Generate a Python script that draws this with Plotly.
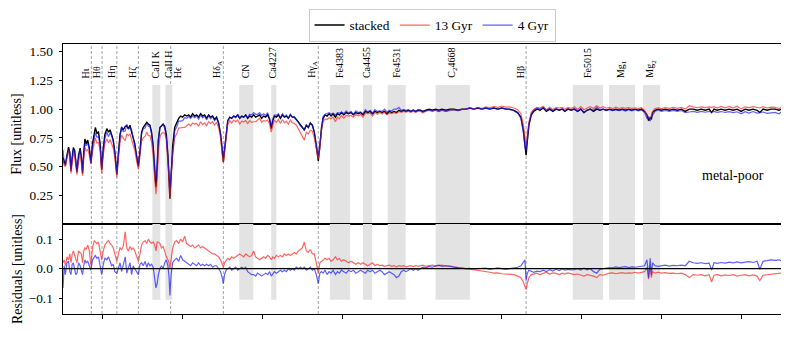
import plotly.graph_objects as go

# ---------------- data ----------------
wavelength = [
    3700, 3703, 3706, 3710, 3714, 3717, 3720, 3723, 3726, 3729,
    3732, 3735, 3739, 3743, 3746, 3749, 3752, 3755, 3758, 3762,
    3766, 3770, 3774, 3778, 3781, 3785, 3789, 3793, 3797, 3801,
    3805, 3810, 3814, 3818, 3822, 3826, 3830, 3835, 3839, 3843,
    3847, 3851, 3856, 3860, 3864, 3868, 3872, 3876, 3880, 3885,
    3889, 3893, 3897, 3901, 3906, 3910, 3914, 3918, 3922, 3926,
    3930, 3933, 3936, 3939, 3943, 3947, 3951, 3955, 3959, 3963,
    3966, 3968, 3971, 3975, 3980, 3985, 3990, 3995, 4000, 4005,
    4010, 4015, 4020, 4025, 4030, 4035, 4040, 4045, 4050, 4055,
    4060, 4065, 4070, 4075, 4080, 4085, 4090, 4095, 4099, 4102,
    4105, 4109, 4113, 4118, 4123, 4128, 4133, 4138, 4143, 4148,
    4153, 4158, 4163, 4168, 4173, 4178, 4183, 4188, 4193, 4198,
    4203, 4208, 4213, 4218, 4222, 4226, 4230, 4235, 4240, 4245,
    4250, 4255, 4260, 4265, 4270, 4275, 4280, 4285, 4290, 4295,
    4300, 4305, 4310, 4315, 4320, 4325, 4330, 4335, 4340, 4344,
    4348, 4352, 4357, 4362, 4367, 4372, 4377, 4383, 4388, 4393,
    4398, 4404, 4410, 4416, 4422, 4428, 4434, 4440, 4446, 4452,
    4458, 4464, 4470, 4476, 4482, 4488, 4494, 4500, 4506, 4512,
    4518, 4524, 4530, 4536, 4542, 4548, 4554, 4560, 4566, 4572,
    4578, 4584, 4590, 4596, 4602, 4610, 4618, 4626, 4634, 4642,
    4650, 4660, 4670, 4680, 4690, 4700, 4710, 4720, 4730, 4740,
    4750, 4760, 4770, 4780, 4790, 4800, 4810, 4820, 4830, 4840,
    4848, 4854, 4858, 4861, 4864, 4868, 4874, 4880, 4888, 4896,
    4904, 4912, 4920, 4928, 4936, 4944, 4952, 4958, 4966, 4974,
    4982, 4990, 4998, 5006, 5014, 5022, 5030, 5038, 5046, 5054,
    5062, 5070, 5078, 5086, 5094, 5102, 5110, 5118, 5126, 5134,
    5142, 5150, 5158, 5164, 5168, 5172, 5175, 5178, 5184, 5192,
    5200, 5210, 5220, 5230, 5240, 5250, 5260, 5270, 5280, 5290,
    5300, 5310, 5320, 5326, 5332, 5340, 5350, 5360, 5370, 5380,
    5390, 5400, 5410, 5420, 5430, 5440, 5447, 5455, 5465, 5475,
    5485, 5495, 5500,
]

flux_stacked = [
    0.58, 0.54, 0.51, 0.60, 0.67, 0.62, 0.46, 0.58, 0.665, 0.64,
    0.52, 0.45, 0.60, 0.66, 0.58, 0.44, 0.62, 0.74, 0.70, 0.73,
    0.66, 0.53, 0.70, 0.80, 0.84, 0.79, 0.80, 0.70, 0.47, 0.66,
    0.78, 0.83, 0.80, 0.82, 0.78, 0.73, 0.62, 0.43, 0.62, 0.78,
    0.84, 0.82, 0.85, 0.855, 0.83, 0.86, 0.80, 0.76, 0.70, 0.58,
    0.50, 0.64, 0.80, 0.84, 0.86, 0.885, 0.87, 0.86, 0.80, 0.68,
    0.45, 0.32, 0.48, 0.72, 0.84, 0.86, 0.87, 0.85, 0.78, 0.60,
    0.40, 0.22, 0.42, 0.68, 0.84, 0.88, 0.92, 0.94, 0.93, 0.95,
    0.94, 0.95, 0.93, 0.96, 0.94, 0.95, 0.93, 0.96, 0.94, 0.95,
    0.92, 0.95, 0.93, 0.94, 0.91, 0.93, 0.88, 0.78, 0.62, 0.54,
    0.64, 0.80, 0.90, 0.93, 0.92, 0.94, 0.93, 0.95, 0.92, 0.94,
    0.93, 0.95, 0.92, 0.94, 0.93, 0.95, 0.93, 0.94, 0.95, 0.92,
    0.94, 0.93, 0.95, 0.91, 0.83, 0.90, 0.94, 0.93, 0.95, 0.92,
    0.95, 0.93, 0.94, 0.92, 0.95, 0.93, 0.93, 0.91, 0.89, 0.86,
    0.84, 0.82, 0.86, 0.84, 0.88, 0.86, 0.80, 0.68, 0.55, 0.68,
    0.84, 0.92, 0.95, 0.94, 0.96, 0.94, 0.96, 0.93, 0.96, 0.95,
    0.97, 0.95, 0.97, 0.96, 0.97, 0.95, 0.97, 0.96, 0.97, 0.95,
    0.98, 0.97, 0.98, 0.96, 0.98, 0.97, 0.98, 0.97, 0.98, 0.96,
    0.98, 0.97, 0.98, 0.97, 0.99, 0.98, 0.99, 0.98, 0.99, 0.98,
    0.99, 0.98, 0.99, 0.99, 0.98, 0.99, 1.00, 0.99, 1.00, 0.99,
    1.00, 0.99, 1.00, 1.00, 0.99, 1.00, 1.00, 1.01, 1.00, 1.01,
    1.00, 1.01, 1.00, 1.01, 1.00, 1.01, 1.00, 1.00, 0.99, 0.97,
    0.93, 0.82, 0.70, 0.60, 0.72, 0.86, 0.95, 0.98, 1.00, 0.99,
    1.01, 0.98, 1.00, 0.98, 1.00, 0.99, 1.00, 0.98, 1.00, 0.99,
    1.00, 0.98, 1.00, 0.97, 0.99, 1.00, 0.98, 1.00, 0.99, 1.00,
    0.99, 1.00, 0.99, 1.00, 0.99, 1.00, 0.99, 1.00, 0.99, 1.00,
    0.99, 1.00, 0.98, 0.95, 0.90, 0.93, 0.91, 0.97, 0.99, 1.00,
    0.99, 1.00, 0.99, 1.00, 0.99, 1.00, 0.98, 1.00, 1.00, 0.99,
    1.00, 0.99, 1.00, 0.97, 1.00, 0.99, 1.00, 0.99, 1.00, 0.99,
    1.00, 0.98, 1.00, 0.99, 1.00, 0.99, 0.97, 1.00, 0.99, 1.00,
    1.00, 0.99, 1.00,
]

# residuals = stacked - model
resid_13gyr = [
    0.02, 0.03, 0.01, 0.04, 0.03, 0.05, 0.02, 0.05, 0.06, 0.045,
    0.03, 0.02, 0.06, 0.055, 0.05, 0.02, 0.06, 0.07, 0.065, 0.08,
    0.06, 0.01, 0.07, 0.095, 0.09, 0.085, 0.09, 0.06, 0.03, 0.06,
    0.08, 0.09, 0.095, 0.085, 0.08, 0.07, 0.05, 0.025, 0.05, 0.07,
    0.065, 0.075, 0.125, 0.07, 0.06, 0.075, 0.065, 0.07, 0.06, 0.04,
    0.025, 0.05, 0.08, 0.09, 0.095, 0.085, 0.10, 0.09, 0.085, 0.09,
    0.08, 0.06, 0.09, 0.09, 0.085, 0.07, 0.075, 0.06, 0.04, 0.03,
    0.02, 0.0, 0.03, 0.07, 0.09, 0.095, 0.085, 0.10, 0.09, 0.11,
    0.085, 0.08, 0.075, 0.08, 0.07, 0.075, 0.08, 0.07, 0.075, 0.07,
    0.065, 0.06, 0.055, 0.05, 0.05, 0.045, 0.04, 0.03, 0.015, 0.005,
    0.02, 0.03, 0.035, 0.03, 0.04, 0.035, 0.04, 0.045, 0.05, 0.045,
    0.04, 0.05, 0.045, 0.04, 0.045, 0.06, 0.04, 0.035, 0.03, 0.035,
    0.04, 0.035, 0.045, 0.04, 0.03, 0.04, 0.035, 0.045, 0.04, 0.045,
    0.04, 0.05, 0.045, 0.05, 0.045, 0.05, 0.055, 0.05, 0.06, 0.065,
    0.07, 0.09, 0.06, 0.055, 0.065, 0.05, 0.05, 0.02, -0.015, 0.02,
    0.025, 0.03, 0.035, 0.03, 0.035, 0.025, 0.03, 0.04, 0.03, 0.035,
    0.025, 0.03, 0.025, 0.02, 0.025, 0.02, 0.015, 0.02, 0.015, 0.02,
    0.015, 0.01, 0.015, 0.02, 0.01, 0.015, 0.01, 0.012, 0.008, 0.01,
    0.012, 0.008, 0.01, 0.006, 0.01, 0.008, 0.01, 0.006, 0.008, 0.01,
    0.007, 0.01, 0.008, 0.01, 0.012, 0.008, 0.01, 0.012, 0.008, 0.01,
    0.012, 0.009, 0.01, 0.006, 0.004, 0.002, 0.0, -0.002, -0.003, -0.004,
    -0.006, -0.01, -0.012, -0.015, -0.014, -0.017, -0.018, -0.02, -0.02, -0.025,
    -0.03, -0.045, -0.06, -0.07, -0.05, -0.03, -0.02, -0.018, -0.015, -0.02,
    -0.015, -0.012, -0.018, -0.014, -0.016, -0.02, -0.015, -0.018, -0.014, -0.016,
    -0.02, -0.018, -0.022, -0.025, -0.02, -0.022, -0.025, -0.03, -0.02, -0.022,
    -0.018, -0.015, -0.014, -0.017, -0.015, -0.013, -0.016, -0.014, -0.015, -0.012,
    -0.015, -0.012, -0.01, 0.005, -0.035, 0.01, -0.03, -0.01, -0.015, -0.012,
    -0.015, -0.013, -0.016, -0.015, -0.017, -0.015, -0.02, -0.03, -0.02, -0.022,
    -0.02, -0.024, -0.02, -0.045, -0.022, -0.02, -0.024, -0.021, -0.023, -0.02,
    -0.025, -0.022, -0.02, -0.024, -0.021, -0.025, -0.04, -0.022, -0.02, -0.018,
    -0.016, -0.015, -0.015,
]

resid_4gyr = [
    -0.065, 0.01, -0.02, 0.02, 0.025, -0.01, -0.02, 0.015, 0.02, -0.005,
    -0.02, -0.015, 0.02, 0.01, -0.01, -0.02, 0.01, 0.03, 0.02, 0.025,
    0.01, -0.005, 0.03, 0.04, 0.045, 0.035, 0.04, 0.01, -0.02, 0.015,
    0.035, 0.03, 0.04, 0.025, 0.01, 0.015, -0.01, -0.015, 0.0, 0.02,
    -0.01, 0.015, 0.04, -0.015, 0.005, 0.02, -0.02, 0.01, 0.0, -0.01,
    -0.02, 0.015, 0.02, 0.01, 0.025, 0.005, 0.02, 0.01, 0.015, 0.005,
    -0.04, -0.065, -0.05, -0.02, 0.0, 0.01, 0.0, 0.02, 0.03, 0.01,
    -0.03, -0.09, -0.02, 0.02, 0.03, 0.035, 0.025, 0.045, 0.03, 0.025,
    0.02, 0.015, 0.01, 0.02, 0.015, 0.01, 0.02, 0.01, 0.015, 0.01,
    0.015, 0.01, 0.015, 0.005, 0.01, 0.01, 0.0, -0.01, -0.03, -0.05,
    -0.02, -0.005, 0.0, 0.005, -0.005, 0.0, 0.005, -0.005, 0.0, 0.005,
    0.0, 0.005, -0.01, -0.015, -0.02, -0.02, -0.025, -0.015, -0.02, -0.025,
    -0.02, -0.015, -0.02, -0.01, -0.025, -0.015, -0.01, -0.015, -0.01, -0.005,
    -0.01, -0.005, -0.01, 0.0, -0.005, 0.0, -0.005, 0.005, 0.0, 0.005,
    0.0, 0.005, -0.005, 0.0, 0.005, -0.005, 0.0, -0.02, -0.05, -0.015,
    -0.01, -0.015, -0.005, -0.02, -0.01, -0.015, -0.005, -0.02, -0.01, -0.015,
    -0.005, -0.01, -0.015, -0.005, -0.01, -0.005, -0.015, -0.01, -0.005, -0.01,
    -0.015, -0.005, -0.01, -0.005, -0.015, -0.01, -0.005, -0.01, -0.02, -0.015,
    -0.01, -0.015, -0.02, -0.03, -0.025, -0.01, -0.005, -0.01, -0.005, 0.0,
    -0.005, 0.0, -0.005, 0.0, 0.005, 0.003, 0.008, 0.005, 0.01, 0.012,
    0.008, 0.01, 0.007, 0.005, 0.003, 0.002, 0.0, 0.001, -0.001, 0.0,
    0.0, 0.002, -0.002, 0.0, 0.003, 0.0, -0.002, 0.0, 0.002, 0.005,
    0.01, 0.02, 0.03, -0.04, -0.015, -0.005, -0.01, -0.012, -0.008, -0.01,
    -0.005, -0.01, -0.003, -0.008, -0.002, -0.006, 0.0, -0.005, -0.002, -0.004,
    -0.003, 0.0, -0.005, 0.002, -0.004, 0.0, -0.01, -0.015, -0.002, 0.0,
    0.002, 0.004, 0.003, 0.006, 0.004, 0.005, 0.007, 0.004, 0.006, 0.005,
    0.006, 0.008, 0.01, 0.03, -0.03, 0.035, -0.02, 0.02, 0.01, 0.008,
    0.01, 0.012, 0.009, 0.011, 0.01, 0.012, 0.01, 0.025, 0.02, 0.018,
    0.02, 0.017, 0.019, -0.005, 0.02, 0.018, 0.021, 0.019, 0.022, 0.02,
    0.023, 0.02, 0.022, 0.024, 0.021, 0.025, -0.002, 0.025, 0.027, 0.03,
    0.028, 0.03, 0.027,
]

assert len(wavelength) == len(flux_stacked) == len(resid_13gyr) == len(resid_4gyr), (
    len(wavelength), len(flux_stacked), len(resid_13gyr), len(resid_4gyr))

flux_13gyr = [s - r for s, r in zip(flux_stacked, resid_13gyr)]
flux_4gyr = [s - r for s, r in zip(flux_stacked, resid_4gyr)]

# Balmer lines (dashed markers) and index bandpasses (grey bands)
line_names = ["Hι", "Hθ", "Hη", "Hζ", "Hϵ", "Hδ<sub>A</sub>", "Hγ<sub>A</sub>", "Hβ"]
line_waves = [3771, 3798, 3835, 3889, 3970, 4102, 4340, 4861]
band_names = ["CaII K", "CaII H", "CN", "Ca4227", "Fe4383", "Ca4455", "Fe4531",
              "C<sub>2</sub>4668", "Fe5015", "Mg<sub>1</sub>", "Mg<sub>2</sub>"]
band_lo = [3924, 3957, 4142, 4222, 4369, 4452, 4514, 4634, 4978, 5069, 5154]
band_hi = [3944, 3974, 4177, 4235, 4420, 4475, 4559, 4720, 5054, 5134, 5197]

x_ticks = [3800, 4000, 4200, 4400, 4600, 4800, 5000, 5200, 5400]
flux_ticks = [0.25, 0.50, 0.75, 1.00, 1.25, 1.50]
resid_ticks = [-0.1, 0.0, 0.1]

# ---------------- figure ----------------
FONT = "Liberation Serif, Times New Roman, serif"
RED = "rgba(255,30,30,0.68)"
BLUE = "rgba(20,20,255,0.68)"

fig = go.Figure()
fig.add_trace(go.Scatter(x=wavelength, y=flux_stacked, mode="lines", name="stacked",
                         line=dict(color="black", width=1.4), xaxis="x", yaxis="y"))
fig.add_trace(go.Scatter(x=wavelength, y=flux_13gyr, mode="lines", name="13 Gyr",
                         line=dict(color=RED, width=1.2), xaxis="x", yaxis="y"))
fig.add_trace(go.Scatter(x=wavelength, y=flux_4gyr, mode="lines", name="4 Gyr",
                         line=dict(color=BLUE, width=1.2), xaxis="x", yaxis="y"))
fig.add_trace(go.Scatter(x=wavelength, y=resid_13gyr, mode="lines", showlegend=False,
                         line=dict(color=RED, width=1.2), xaxis="x2", yaxis="y2"))
fig.add_trace(go.Scatter(x=wavelength, y=resid_4gyr, mode="lines", showlegend=False,
                         line=dict(color=BLUE, width=1.2), xaxis="x2", yaxis="y2"))

shapes = []
for lo, hi in zip(band_lo, band_hi):
    shapes.append(dict(type="rect", xref="x", yref="y", x0=lo, x1=hi, y0=0, y1=1.21,
                       fillcolor="#e3e3e3", line=dict(width=0), layer="below"))
    shapes.append(dict(type="rect", xref="x2", yref="y2", x0=lo, x1=hi, y0=-0.105, y1=0.16,
                       fillcolor="#e3e3e3", line=dict(width=0), layer="below"))
for w in line_waves:
    shapes.append(dict(type="line", xref="x", yref="paper", x0=w, x1=w, y0=0, y1=1,
                       line=dict(color="#9a9a9a", width=0.9, dash="3px,2px"), layer="below"))
shapes.append(dict(type="line", xref="x2 domain", yref="y2", x0=0, x1=1, y0=0, y1=0,
                   line=dict(color="black", width=1.3)))

annotations = []
line_shift = [-6, -6, -6, -6, 7, -6, -6, -6]
for name, w, sh in zip(line_names, line_waves, line_shift):
    annotations.append(dict(text=name, x=w, y=1.253, xref="x", yref="y", showarrow=False,
                            textangle=-90, xanchor="center", yanchor="bottom", xshift=sh,
                            font=dict(family=FONT, size=10, color="black")))
for name, lo, hi in zip(band_names, band_lo, band_hi):
    annotations.append(dict(text=name, x=(lo + hi) / 2, y=1.253, xref="x", yref="y",
                            showarrow=False, textangle=-90, xanchor="center", yanchor="bottom",
                            xshift=-1, font=dict(family=FONT, size=10, color="black")))
annotations.append(dict(text="metal-poor", x=5380, y=0.42, xref="x", yref="y", showarrow=False,
                        xanchor="center", yanchor="middle",
                        font=dict(family=FONT, size=14, color="black")))

axis_common = dict(showline=True, linecolor="black", linewidth=1, mirror=True,
                   showgrid=False, zeroline=False, automargin=False)

# the page adds an 8 px body margin, so the figure is sized 8 px smaller
fig.update_layout(
    width=781, height=334,
    margin=dict(l=55, r=8, t=36, b=28, autoexpand=False),
    paper_bgcolor="white", plot_bgcolor="white",
    font=dict(family=FONT, size=13.3, color="black"),
    shapes=shapes, annotations=annotations,
    showlegend=True,
    legend=dict(orientation="h", x=0.514, xanchor="center", y=1.13, yanchor="top",
                bordercolor="#cccccc", borderwidth=1, bgcolor="white",
                font=dict(family=FONT, size=13.3), itemwidth=30),
    xaxis=dict(domain=[0, 1], anchor="y", range=[3700, 5500], showticklabels=False,
               ticks="", matches="x2", **axis_common),
    yaxis=dict(domain=[1 / 3, 1], anchor="x", range=[0.0, 1.567], tickvals=flux_ticks,
               tickformat=".2f", ticks="outside", ticklen=3.5, tickcolor="black",
               ticklabelstandoff=3,
               title=dict(text="Flux [unitless]", standoff=4, font=dict(size=14)),
               **axis_common),
    xaxis2=dict(domain=[0, 1], anchor="y2", range=[3700, 5500], tickvals=x_ticks,
                showticklabels=False, ticks="outside", ticklen=3.5, tickcolor="black",
                **axis_common),
    yaxis2=dict(domain=[0, 1 / 3], anchor="x2", range=[-0.153, 0.151], tickvals=resid_ticks,
                tickformat=".1f", ticks="outside", ticklen=3.5, tickcolor="black",
                ticklabelstandoff=3,
                title=dict(text="Residuals [unitless]", standoff=2, font=dict(size=14)),
                **axis_common),
)

fig.write_html("out.html")
